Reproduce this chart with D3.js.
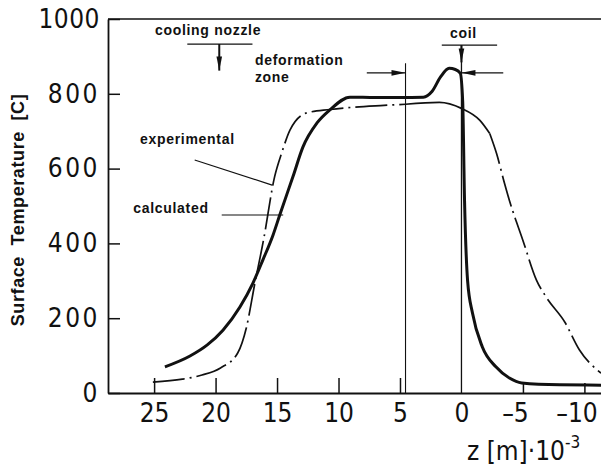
<!DOCTYPE html>
<html>
<head>
<meta charset="utf-8">
<script src="https://cdn.jsdelivr.net/npm/d3@7/dist/d3.min.js"></script>
<style>
  body { margin: 0; background: #fff; }
  svg { display: block; }
  .tick-label { font-family: 'DejaVu Sans Condensed', 'DejaVu Sans', sans-serif; font-stretch: condensed; font-size: 26px; fill: #111; }
  .note { font-family: 'Liberation Sans', Arial, sans-serif; font-weight: 700; font-size: 14px; letter-spacing: .7px; fill: #111; }
</style>
</head>
<body>
<div id="chart"></div>
<script>
// surface temperature along z
const calcZ = [24.12, 22.08, 20.7, 19.4, 18.02, 16.96, 16.15, 15.33, 14.78, 13.71, 12.89, 11.75, 10.7, 9.07, 7, 5, 3.1, 2.4, 1.7, 1.0, 0.5, 0.1, -0.1, -0.25, -0.5, -0.9, -1.7, -2.8, -3.9, -4.9, -8, -11.35];
const calcT = [70, 99, 128, 168, 230, 294, 356, 422, 476, 578, 658, 722, 757, 791, 790, 790, 791, 806, 845, 868, 865, 855, 780, 515, 300, 213, 123, 70, 40, 27, 22, 21];

const expZ = [25.1, 22.7, 21.1, 19.6, 18.2, 17.5, 16.8, 16.1, 15.2, 14.6, 13.95, 12.57, 10.7, 6.3, 4.55, 1.8, 0, -1.5, -2.3, -2.85, -3.5, -3.9, -5, -6.1, -6.9, -8.4, -9.6, -11.35];
const expT = [29, 37, 48, 67, 107, 174, 294, 409, 578, 644, 703, 749, 758, 769, 772, 777, 761, 729, 694, 641, 561, 515, 408, 302, 256, 190, 115, 53];
// stretch of the measured curve that is drawn solid
const expSolid = [4.55, -2.3];

const xTicks = [25, 20, 15, 10, 5, 0, -5, -10];
const yTicks = [0, 200, 400, 600, 800, 1000];

// annotations, in data units [z, T]
const deformZ = 4.55, coilZ = 0;
const labels = [
  { text: 'cooling nozzle', z: 24.93, t: 957 },
  { text: 'deformation', z: 16.8, t: 877 },
  { text: 'zone', z: 16.8, t: 832 },
  { text: 'coil', z: 0.94, t: 950 },
  { text: 'experimental', z: 26.15, t: 665 },
  { text: 'calculated', z: 26.7, t: 481 }
];
const leaders = [
  [[21.7, 623], [15.4, 556]],
  [[19.5, 476], [14.5, 476]]
];

const W = 601, H = 468;
const svg = d3.select('#chart').append('svg').attr('width', W).attr('height', H);

const x = d3.scaleLinear().domain([28.75, -11.35]).range([108, 601]);
const y = d3.scaleLinear().domain([0, 1000]).range([393, 19]);
const ink = '#111';

// frame: left and bottom axes, top rule
svg.append('line').attr('x1', x(28.75)).attr('x2', W).attr('y1', y(1000)).attr('y2', y(1000))
  .attr('stroke', ink).attr('stroke-width', 1.6);

const yAxis = svg.append('g').attr('transform', `translate(${x(28.75)},0)`)
  .call(d3.axisLeft(y).tickValues(yTicks).tickSize(-12).tickSizeOuter(0).tickPadding(8).tickFormat(d3.format('d')));
const xAxis = svg.append('g').attr('transform', `translate(0,${y(0)})`)
  .call(d3.axisBottom(x).tickValues(xTicks).tickSize(-15).tickSizeOuter(0).tickPadding(11)
    .tickFormat(d => d < 0 ? '\u2013' + Math.abs(d) : d));
[yAxis, xAxis].forEach(g => {
  g.select('.domain').attr('stroke', ink).attr('stroke-width', 1.8);
  g.selectAll('.tick line').attr('stroke', ink).attr('stroke-width', 1.5);
  g.selectAll('.tick text').attr('class', 'tick-label').attr('fill', null).attr('font-size', null).attr('font-family', null);
});
yAxis.selectAll('.tick text').attr('letter-spacing', d => d === 1000 ? 0.5 : 2.5);
xAxis.selectAll('.tick line').attr('y2', d => d < 0 ? -10 : d === 0 ? 0 : -15);
xAxis.selectAll('.tick text').attr('dx', d => d < 0 ? -8 : 0);

// axis titles
const xt = svg.append('text').attr('class', 'tick-label').attr('x', 467).attr('y', 460).attr('font-size', 25);
xt.append('tspan').text('z [m]\u00b710');
xt.append('tspan').attr('dy', -12).attr('font-size', 17).text('-3');

svg.append('text')
  .attr('transform', `translate(24,210) rotate(-90)`)
  .attr('text-anchor', 'middle')
  .attr('font-family', "'Liberation Sans', Arial, sans-serif").attr('font-size', 18).attr('font-weight', 700)
  .attr('letter-spacing', 0.6).attr('word-spacing', 5)
  .attr('fill', ink)
  .text('Surface Temperature [C]');

// marker lines for deformation zone and coil
svg.append('line').attr('x1', x(deformZ)).attr('x2', x(deformZ)).attr('y1', y(0)).attr('y2', y(882))
  .attr('stroke', ink).attr('stroke-width', 1.1);
svg.append('line').attr('x1', x(coilZ)).attr('x2', x(coilZ)).attr('y1', y(0)).attr('y2', y(930))
  .attr('stroke', ink).attr('stroke-width', 1.3);

const defs = svg.append('defs');
defs.append('marker').attr('id', 'head').attr('viewBox', '0 -4 16 8')
  .attr('markerUnits', 'userSpaceOnUse').attr('markerWidth', 16).attr('markerHeight', 7)
  .attr('refX', 16).attr('refY', 0).attr('orient', 'auto')
  .append('path').attr('d', 'M0,-3.2L16,0L0,3.2Z').attr('fill', ink);

function arrow(z1, t1, z2, t2, w = 1.4) {
  svg.append('line').attr('x1', x(z1)).attr('y1', y(t1)).attr('x2', x(z2)).attr('y2', y(t2))
    .attr('stroke', ink).attr('stroke-width', w).attr('marker-end', 'url(#head)');
}
function rule(z1, z2, t) {
  svg.append('line').attr('x1', x(z1)).attr('x2', x(z2)).attr('y1', y(t)).attr('y2', y(t))
    .attr('stroke', ink).attr('stroke-width', 1.3);
}
// deformation zone
arrow(7.7, 856, deformZ, 856);
arrow(-3.4, 856, coilZ, 856);
// cooling nozzle
rule(22.3, 17.0, 933);
arrow(19.7, 933, 19.7, 862, 2);
// coil
rule(1.6, -2.9, 930);
arrow(coilZ, 930, coilZ, 884, 2);

// curves
const line = d3.line().x(d => x(d[0])).y(d => y(d[1])).curve(d3.curveMonotoneX);
const calc = calcZ.map((z, i) => [z, calcT[i]]);
const exp = expZ.map((z, i) => [z, expT[i]]);

svg.append('path').attr('d', line(calc)).attr('fill', 'none')
  .attr('stroke', ink).attr('stroke-width', 3).attr('stroke-linejoin', 'round');

const dashDot = '32,5,2,5';
svg.append('path').attr('d', line(exp.filter(d => d[0] >= expSolid[0]))).attr('fill', 'none')
  .attr('stroke', ink).attr('stroke-width', 1.7).attr('stroke-dasharray', dashDot);
svg.append('path').attr('d', line(exp.filter(d => d[0] <= expSolid[0] && d[0] >= expSolid[1]))).attr('fill', 'none')
  .attr('stroke', ink).attr('stroke-width', 1.7);
svg.append('path').attr('d', line(exp.filter(d => d[0] <= expSolid[1]))).attr('fill', 'none')
  .attr('stroke', ink).attr('stroke-width', 1.7).attr('stroke-dasharray', dashDot);

// labels and leader lines
svg.selectAll('text.note').data(labels).join('text')
  .attr('class', 'note')
  .attr('x', d => x(d.z)).attr('y', d => y(d.t))
  .text(d => d.text);
svg.selectAll('line.leader').data(leaders).join('line')
  .attr('class', 'leader')
  .attr('x1', d => x(d[0][0])).attr('y1', d => y(d[0][1]))
  .attr('x2', d => x(d[1][0])).attr('y2', d => y(d[1][1]))
  .attr('stroke', ink).attr('stroke-width', 1.2);
</script>
</body>
</html>
